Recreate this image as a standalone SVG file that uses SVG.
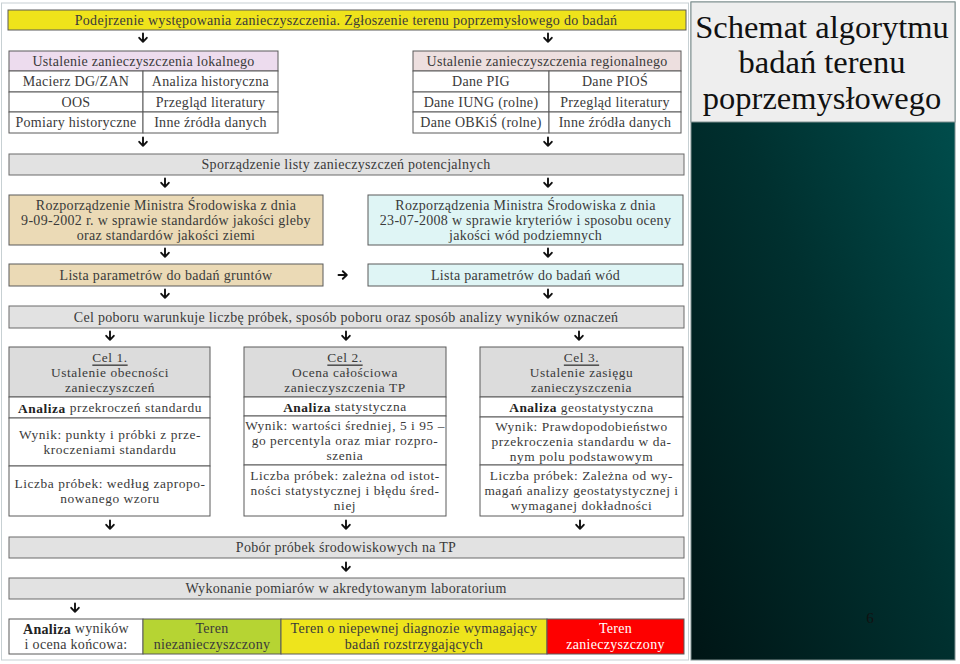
<svg xmlns="http://www.w3.org/2000/svg" width="960" height="664" viewBox="0 0 960 664">
<style>
.t{font-family:"Liberation Serif","Times New Roman",serif;font-size:14px;letter-spacing:0.3px;fill:#3a3a3a;text-anchor:middle;dominant-baseline:central}
.c{font-size:13.4px;letter-spacing:0.55px}
.b{font-weight:bold;fill:#222}
.box{stroke:#5a5a5a;stroke-width:1}
.bar{fill:#e2e2e2;stroke:#6a6a6a;stroke-width:1}
.cell{fill:#fff;stroke:#5a5a5a;stroke-width:1}
.ar{fill:none;stroke:#111;stroke-width:1.9;stroke-linecap:round;stroke-linejoin:round}
.ttl{font-family:"Liberation Serif","Times New Roman",serif;font-size:32.5px;fill:#111;text-anchor:middle}
</style>
<defs>
<path id="dn" class="ar" d="M0,-4.5 V3.8 M-3.8,-0.2 L0,3.8 L3.8,-0.2"/>
<path id="rt" class="ar" d="M-4.5,0 H3.8 M-0.2,-3.8 L3.8,0 L-0.2,3.8"/>
<linearGradient id="tg" x1="1" y1="0" x2="0" y2="1">
<stop offset="0" stop-color="#005352"/>
<stop offset="0.5" stop-color="#00302f"/>
<stop offset="1" stop-color="#001515"/>
</linearGradient>
</defs>
<rect x="0" y="0" width="960" height="664" fill="#fff"/>
<rect x="1.5" y="3" width="687" height="657" fill="#fff" stroke="#c7d0d3"/>

<g id="panel">
<rect x="691" y="2" width="264" height="658" fill="url(#tg)" stroke="#7f9090"/>
<rect x="691" y="2" width="264" height="120" fill="#eeeeee" stroke="#7f9090"/>
<text class="ttl" x="822" y="38">Schemat algorytmu</text>
<text class="ttl" x="822" y="73">badań terenu</text>
<text class="ttl" x="822" y="109">poprzemysłowego</text>
<text x="870" y="623" font-family="Liberation Serif,serif" font-size="15" fill="#111" text-anchor="middle">6</text>
</g>

<g id="n-start">
<rect x="8" y="10" width="678" height="20" fill="#efe31b" class="box"/>
<text class="t" x="346" y="20">Podejrzenie występowania zanieczyszczenia. Zgłoszenie terenu poprzemysłowego do badań</text>
</g>

<g id="n-local">
<rect x="9" y="51" width="269" height="20" fill="#eddcee" class="box"/>
<rect x="9" y="71" width="134" height="21" class="cell"/>
<rect x="143" y="71" width="135" height="21" class="cell"/>
<rect x="9" y="92" width="134" height="20" class="cell"/>
<rect x="143" y="92" width="135" height="20" class="cell"/>
<rect x="9" y="112" width="134" height="21" class="cell"/>
<rect x="143" y="112" width="135" height="21" class="cell"/>
<text class="t" x="143.5" y="61">Ustalenie zanieczyszczenia lokalnego</text>
<text class="t" x="76" y="81.5">Macierz DG/ZAN</text>
<text class="t" x="210.5" y="81.5">Analiza historyczna</text>
<text class="t" x="76" y="102">OOS</text>
<text class="t" x="210.5" y="102">Przegląd literatury</text>
<text class="t" x="76" y="122.5">Pomiary historyczne</text>
<text class="t" x="210.5" y="122.5">Inne źródła danych</text>
</g>

<g id="n-regional">
<rect x="413" y="51" width="268" height="20" fill="#eddfdf" class="box"/>
<rect x="413" y="71" width="136" height="21" class="cell"/>
<rect x="549" y="71" width="132" height="21" class="cell"/>
<rect x="413" y="92" width="136" height="20" class="cell"/>
<rect x="549" y="92" width="132" height="20" class="cell"/>
<rect x="413" y="112" width="136" height="21" class="cell"/>
<rect x="549" y="112" width="132" height="21" class="cell"/>
<text class="t" x="547" y="61">Ustalenie zanieczyszczenia regionalnego</text>
<text class="t" x="481" y="81.5">Dane PIG</text>
<text class="t" x="615" y="81.5">Dane PIOŚ</text>
<text class="t" x="481" y="102">Dane IUNG (rolne)</text>
<text class="t" x="615" y="102">Przegląd literatury</text>
<text class="t" x="481" y="122.5">Dane OBKiŚ (rolne)</text>
<text class="t" x="615" y="122.5">Inne źródła danych</text>
</g>

<g id="n-lista">
<rect x="9" y="154" width="675" height="21" class="bar"/>
<text class="t" x="346" y="164.5">Sporządzenie listy zanieczyszczeń potencjalnych</text>
</g>

<g id="n-rozp-gleba">
<rect x="9" y="195" width="314" height="50" fill="#ebdab6" class="box"/>
<text class="t" x="166" y="205">Rozporządzenie Ministra Środowiska z dnia</text>
<text class="t" x="166" y="220">9-09-2002 r. w sprawie standardów jakości gleby</text>
<text class="t" x="166" y="235">oraz standardów jakości ziemi</text>
</g>

<g id="n-rozp-woda">
<rect x="368" y="195" width="315" height="50" fill="#dff5f5" class="box"/>
<text class="t" x="525.5" y="205">Rozporządzenia Ministra Środowiska z dnia</text>
<text class="t" x="525.5" y="220">23-07-2008 w sprawie kryteriów i sposobu oceny</text>
<text class="t" x="525.5" y="235">jakości wód podziemnych</text>
</g>

<g id="n-param-grunt">
<rect x="9" y="264" width="314" height="22" fill="#ebdab6" class="box"/>
<text class="t" x="166" y="275">Lista parametrów do badań gruntów</text>
</g>

<g id="n-param-woda">
<rect x="368" y="264" width="315" height="22" fill="#dff5f5" class="box"/>
<text class="t" x="525.5" y="275">Lista parametrów do badań wód</text>
</g>

<g id="n-cel-poboru">
<rect x="9" y="306" width="675" height="22" class="bar"/>
<text class="t" x="346" y="317">Cel poboru warunkuje liczbę próbek, sposób poboru oraz sposób analizy wyników oznaczeń</text>
</g>

<g id="n-cel1">
<rect x="9" y="347" width="201" height="50" fill="#dcdcdc" class="box"/>
<rect x="9" y="397" width="201" height="21" class="cell"/>
<rect x="9" y="418" width="201" height="48" class="cell"/>
<rect x="9" y="466" width="201" height="50" class="cell"/>
<text class="t c" x="110" y="357" text-decoration="underline">Cel 1.</text>
<text class="t c" x="110" y="372">Ustalenie obecności</text>
<text class="t c" x="110" y="387">zanieczyszczeń</text>
<text class="t c" x="110" y="407.5"><tspan class="b">Analiza</tspan> przekroczeń standardu</text>
<text class="t c" x="110" y="434.5">Wynik: punkty i próbki z prze-</text>
<text class="t c" x="110" y="449.5">kroczeniami standardu</text>
<text class="t c" x="110" y="483.5">Liczba próbek: według zapropo-</text>
<text class="t c" x="110" y="498.5">nowanego wzoru</text>
</g>

<g id="n-cel2">
<rect x="244" y="347" width="202" height="50" fill="#dcdcdc" class="box"/>
<rect x="244" y="397" width="202" height="19" class="cell"/>
<rect x="244" y="416" width="202" height="49" class="cell"/>
<rect x="244" y="465" width="202" height="51" class="cell"/>
<text class="t c" x="345" y="357" text-decoration="underline">Cel 2.</text>
<text class="t c" x="345" y="372">Ocena całościowa</text>
<text class="t c" x="345" y="387">zanieczyszczenia TP</text>
<text class="t c" x="345" y="406.5"><tspan class="b">Analiza</tspan> statystyczna</text>
<text class="t c" x="345" y="425.5">Wynik: wartości średniej, 5 i 95 –</text>
<text class="t c" x="345" y="440.5">go percentyla oraz miar rozpro-</text>
<text class="t c" x="345" y="455.5">szenia</text>
<text class="t c" x="345" y="475.5">Liczba próbek: zależna od istot-</text>
<text class="t c" x="345" y="490.5">ności statystycznej i błędu śred-</text>
<text class="t c" x="345" y="505.5">niej</text>
</g>

<g id="n-cel3">
<rect x="480" y="347" width="203" height="50" fill="#dcdcdc" class="box"/>
<rect x="480" y="397" width="203" height="20" class="cell"/>
<rect x="480" y="417" width="203" height="48" class="cell"/>
<rect x="480" y="465" width="203" height="51" class="cell"/>
<text class="t c" x="581.5" y="357" text-decoration="underline">Cel 3.</text>
<text class="t c" x="581.5" y="372">Ustalenie zasięgu</text>
<text class="t c" x="581.5" y="387">zanieczyszczenia</text>
<text class="t c" x="581.5" y="407"><tspan class="b">Analiza</tspan> geostatystyczna</text>
<text class="t c" x="581.5" y="426">Wynik: Prawdopodobieństwo</text>
<text class="t c" x="581.5" y="441">przekroczenia standardu w da-</text>
<text class="t c" x="581.5" y="456">nym polu podstawowym</text>
<text class="t c" x="581.5" y="475.5">Liczba próbek: Zależna od wy-</text>
<text class="t c" x="581.5" y="490.5">magań analizy geostatystycznej i</text>
<text class="t c" x="581.5" y="505.5">wymaganej dokładności</text>
</g>

<g id="n-pobor">
<rect x="9" y="537" width="675" height="21" class="bar"/>
<text class="t" x="346" y="547.5">Pobór próbek środowiskowych na TP</text>
</g>

<g id="n-lab">
<rect x="9" y="578" width="675" height="21" class="bar"/>
<text class="t" x="346" y="588.5">Wykonanie pomiarów w akredytowanym laboratorium</text>
</g>

<g id="n-ocena">
<rect x="9" y="619" width="134" height="35" class="cell"/>
<rect x="143" y="619" width="138" height="35" fill="#b6d433" class="box"/>
<rect x="281" y="619" width="266" height="35" fill="#eee41c" class="box"/>
<rect x="547" y="619" width="137" height="35" fill="#fe0000" class="box"/>
<text class="t" x="76" y="628.5"><tspan class="b">Analiza</tspan> wyników</text>
<text class="t" x="76" y="644">i ocena końcowa:</text>
<text class="t" x="212" y="628.5">Teren</text>
<text class="t" x="212" y="644">niezanieczyszczony</text>
<text class="t" x="414" y="628.5">Teren o niepewnej diagnozie wymagający</text>
<text class="t" x="414" y="644">badań rozstrzygających</text>
<text class="t" x="615.5" y="628.5" style="fill:#fff">Teren</text>
<text class="t" x="615.5" y="644" style="fill:#fff">zanieczyszczony</text>
</g>

<g id="connectors">
<use href="#dn" x="143" y="38"/>
<use href="#dn" x="548" y="38"/>
<use href="#dn" x="143" y="142"/>
<use href="#dn" x="548" y="142"/>
<use href="#dn" x="165" y="183"/>
<use href="#dn" x="548" y="183"/>
<use href="#dn" x="165" y="253"/>
<use href="#dn" x="548" y="253"/>
<use href="#rt" x="343" y="275"/>
<use href="#dn" x="165" y="294"/>
<use href="#dn" x="548" y="294"/>
<use href="#dn" x="110" y="336"/>
<use href="#dn" x="346" y="336"/>
<use href="#dn" x="579" y="336"/>
<use href="#dn" x="110" y="525"/>
<use href="#dn" x="346" y="525"/>
<use href="#dn" x="580" y="525"/>
<use href="#dn" x="346" y="567"/>
<use href="#dn" x="75" y="608"/>
</g>
</svg>
